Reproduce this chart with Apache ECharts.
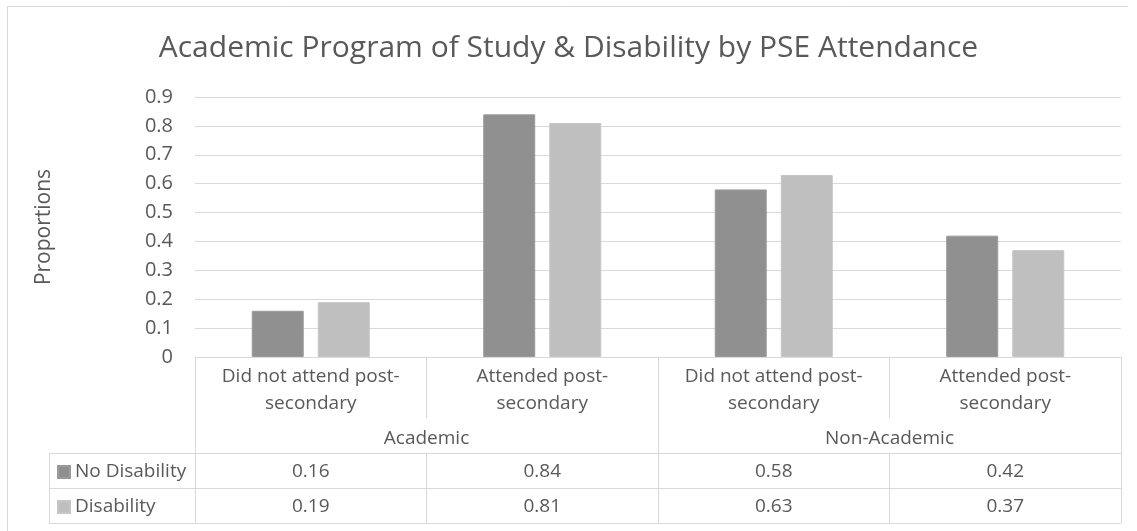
<!DOCTYPE html>
<html>
<head>
<meta charset="utf-8">
<script src="https://cdn.jsdelivr.net/npm/echarts@6/dist/echarts.min.js"></script>
<style>
html,body{margin:0;padding:0;background:#fff;}
#chart{width:1137px;height:531px;}
</style>
</head>
<body>
<div id="chart"></div>
<script>
const titleText = 'Academic Program of Study & Disability by PSE Attendance';
const categories = ['Did not attend post-\nsecondary', 'Attended post-\nsecondary', 'Did not attend post-\nsecondary', 'Attended post-\nsecondary'];
const groups = ['Academic', 'Non-Academic'];
const seriesNames = ['No Disability', 'Disability'];
const noDisability = [0.16, 0.84, 0.58, 0.42];
const disability = [0.19, 0.81, 0.63, 0.37];
const yTicks = { min: 0, max: 0.9, interval: 0.1 };

const FONT = '"Open Sans", "Noto Sans", sans-serif';
const TXT = '#595959';
const LINE = '#d9d9d9';
const FS = 19;

const chart = echarts.init(document.getElementById('chart'));

const rowAxis = (offset, values, showLabel) => ({
  type: 'category', gridIndex: 0, position: 'bottom', offset: offset,
  data: categories,
  axisLine: { show: true, lineStyle: { color: LINE, width: 1 } },
  axisTick: { show: values !== null, interval: 0, length: 35, lineStyle: { color: LINE } },
  axisLabel: {
    show: showLabel, interval: 0, margin: 8, color: TXT, fontFamily: FONT, fontSize: FS, lineHeight: 22,
    formatter: (v, i) => values ? values[i].toFixed(2) : ''
  },
  splitLine: { show: false }
});

chart.setOption({
  animation: false,
  backgroundColor: '#fff',
  title: {
    text: titleText, left: 'center', top: 28,
    textStyle: { color: TXT, fontFamily: FONT, fontSize: 30, fontWeight: 'normal' }
  },
  legend: {
    orient: 'vertical', left: 57, top: 461, padding: 0,
    itemWidth: 12, itemHeight: 12, itemGap: 13, icon: 'rect',
    data: seriesNames,
    textStyle: { color: TXT, fontFamily: FONT, fontSize: FS, lineHeight: 22 }
  },
  grid: { left: 195, right: 16, top: 97, bottom: 174, containLabel: false, outerBoundsMode: 'none' },
  xAxis: [
    {
      type: 'category', data: categories, position: 'bottom',
      axisLine: { show: true, lineStyle: { color: LINE, width: 1 } },
      axisTick: { show: true, interval: 0, length: 61, lineStyle: { color: LINE } },
      axisLabel: { interval: 0, margin: 6, color: TXT, fontFamily: FONT, fontSize: FS, lineHeight: 27 },
      splitLine: { show: false }
    },
    {
      type: 'category', data: groups, position: 'bottom', gridIndex: 0,
      axisLine: { show: false },
      axisTick: { show: true, interval: 0, length: 166, lineStyle: { color: LINE } },
      axisLabel: { interval: 0, margin: 71, color: TXT, fontFamily: FONT, fontSize: FS, lineHeight: 22 },
      splitLine: { show: false }
    },
    rowAxis(96, noDisability, true),
    rowAxis(131, disability, true),
    rowAxis(166, null, false)
  ],
  yAxis: {
    type: 'value', min: yTicks.min, max: yTicks.max, interval: yTicks.interval,
    name: 'Proportions', nameLocation: 'middle', nameRotate: 90, nameGap: 140,
    nameTextStyle: { color: TXT, fontFamily: FONT, fontSize: 21 },
    axisLine: { show: false }, axisTick: { show: false },
    axisLabel: { color: TXT, fontFamily: FONT, fontSize: 20, margin: 22 },
    splitLine: { lineStyle: { color: LINE, width: 1 } }
  },
  series: [
    {
      name: seriesNames[0], type: 'bar', xAxisIndex: 0, data: noDisability,
      barWidth: 52, barGap: '27%',
      itemStyle: { color: '#909090', borderColor: '#9a9a9a', borderWidth: 1 }
    },
    {
      name: seriesNames[1], type: 'bar', xAxisIndex: 0, data: disability,
      barWidth: 52, barGap: '27%',
      itemStyle: { color: '#bfbfbf', borderColor: '#c6c6c6', borderWidth: 1 }
    }
  ],
  graphic: [
    { type: 'line', shape: { x1: 7, y1: 6.5, x2: 1128, y2: 6.5 }, style: { stroke: LINE, lineWidth: 1 } },
    { type: 'line', shape: { x1: 7.5, y1: 6, x2: 7.5, y2: 531 }, style: { stroke: LINE, lineWidth: 1 } },
    { type: 'line', shape: { x1: 49, y1: 453.5, x2: 195, y2: 453.5 }, style: { stroke: LINE, lineWidth: 1 } },
    { type: 'line', shape: { x1: 49, y1: 488.5, x2: 195, y2: 488.5 }, style: { stroke: LINE, lineWidth: 1 } },
    { type: 'line', shape: { x1: 49, y1: 523.5, x2: 195, y2: 523.5 }, style: { stroke: LINE, lineWidth: 1 } },
    { type: 'line', shape: { x1: 49.5, y1: 453, x2: 49.5, y2: 524 }, style: { stroke: LINE, lineWidth: 1 } }
  ]
});
</script>
</body>
</html>
